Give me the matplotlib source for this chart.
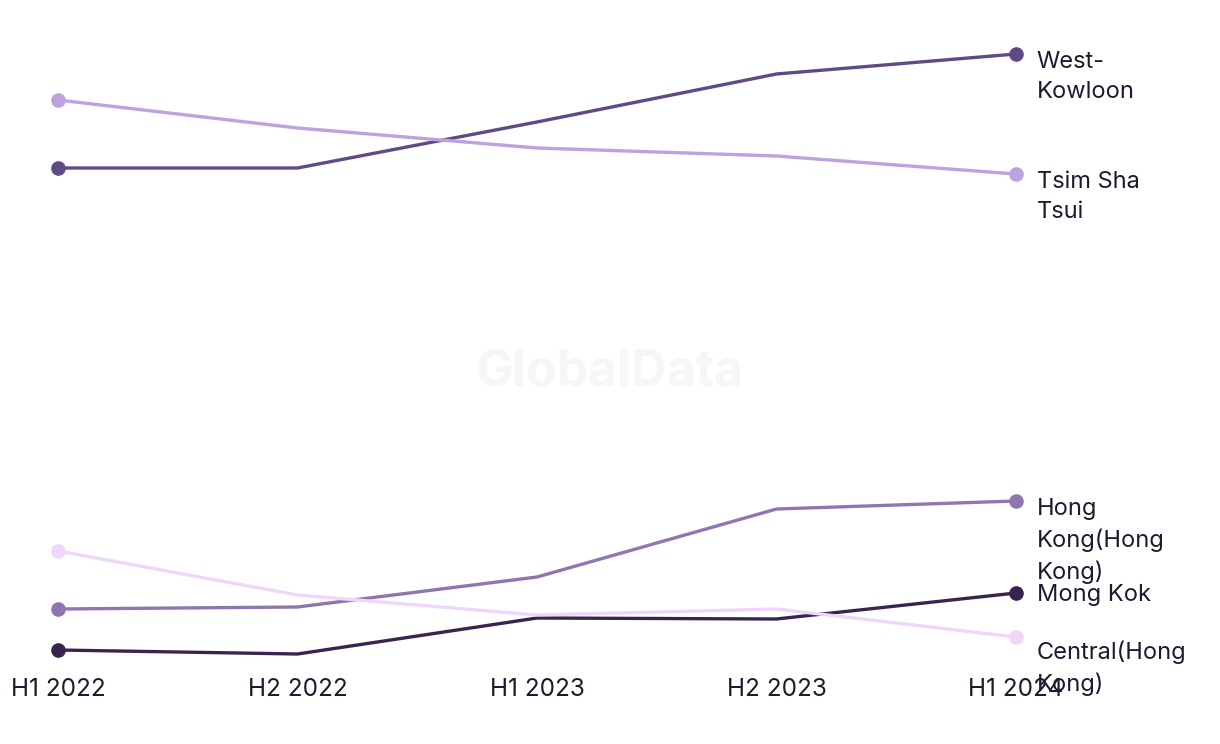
import numpy as np
import matplotlib.pyplot as plt

plt.rcParams['font.family'] = ['Inter', 'DejaVu Sans']

periods = ["H1 2022", "H2 2022", "H1 2023", "H2 2023", "H1 2024"]

# index values (no y axis shown)
west_kowloon = [532, 532, 578, 626, 646]
tsim_sha_tsui = [600, 572, 552, 544, 526]
hong_kong = [91, 93, 123, 191, 199]
central = [149, 105, 85, 91, 63]
mong_kok = [50, 46, 82, 81, 107]

series = [
    ("West-\nKowloon", west_kowloon, "#5f4a84", 2),
    ("Tsim Sha\nTsui", tsim_sha_tsui, "#bda2e0", 2),
    ("Hong\nKong(Hong\nKong)", hong_kong, "#8f76b0", 2),
    ("Mong Kok", mong_kok, "#39244f", 6.5),
    ("Central(Hong\nKong)", central, "#f0d6f9", -2.5),
]

fig = plt.figure(figsize=(12.2, 7.44), dpi=100)
ax = fig.add_axes([58 / 1220, 84 / 744, (1016 - 58) / 1220, 620 / 744])

x = np.arange(len(periods))
for label, vals, col, dy in series:
    ax.plot(x, vals, color=col, lw=2.4, marker='o', ms=9.5,
            markevery=[0, len(vals) - 1], solid_capstyle='round',
            clip_on=False, zorder=3)
    ax.annotate(label, (x[-1], vals[-1]), xytext=(15, dy),
                textcoords='offset points', va='top', ha='left',
                fontsize=17, color='#1b1b30', linespacing=1.45,
                annotation_clip=False)

fig.text(0.5, 0.499, "GlobalData", ha='center', va='center', fontsize=36,
         fontweight='bold', color='#f6f6f6', zorder=0)

ax.set_xlim(0, 4)
ax.set_ylim(40, 660)
ax.set_xticks(x)
ax.set_xticklabels(periods, fontsize=17.5, color='#1b1b30')
ax.tick_params(axis='x', length=0, pad=13)
ax.set_yticks([])
for s in ax.spines.values():
    s.set_visible(False)

fig.savefig("out.png", dpi=100)
